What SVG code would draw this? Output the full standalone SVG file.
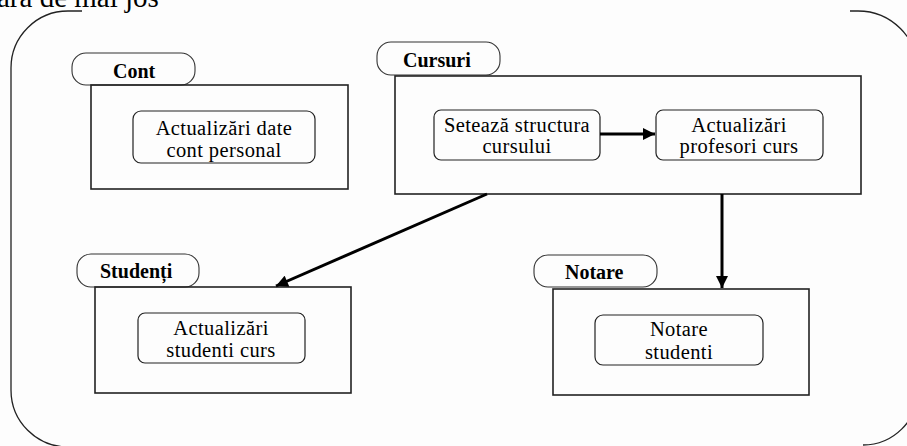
<svg xmlns="http://www.w3.org/2000/svg" width="907" height="446" viewBox="0 0 907 446">
  <defs>
    <marker id="ah" viewBox="0 0 10 10" refX="10" refY="5" markerWidth="4.6" markerHeight="4" orient="auto" markerUnits="strokeWidth">
      <path d="M0,0 L10,5 L0,10 z" fill="#000"/>
    </marker>
    <style>
      .bg { fill: #fdfdfd; }
      .frame { fill: none; stroke: #222; stroke-width: 1.3; }
      .box { fill: none; stroke: #222; stroke-width: 1.6; }
      .tab { fill: #fdfdfd; stroke: #333; stroke-width: 1.1; }
      .inner { fill: none; stroke: #222; stroke-width: 1.2; }
      .lbl { font-family: 'Liberation Serif', 'Times New Roman', Times, serif; font-weight: bold; font-size: 20px; fill: #000; }
      .txt { font-family: 'Liberation Serif', 'Times New Roman', Times, serif; font-size: 20.5px; letter-spacing: 0.4px; fill: #000; text-anchor: middle; }
      .doc { font-family: 'Liberation Serif', 'Times New Roman', Times, serif; font-size: 29px; fill: #000; }
      .conn { stroke: #000; stroke-width: 3; fill: none; marker-end: url(#ah); }
    </style>
  </defs>
  <rect class="bg" x="0" y="0" width="907" height="446"/>
  <text class="doc" x="-3" y="7">ara de mai jos</text>

  <g id="frame">
    <path class="frame" d="M82,11 L68,11 A57,57 0 0 0 11,68 L11,390 A57,57 0 0 0 68,447"/>
    <path class="frame" d="M850,11 L858,11 A60,60 0 0 1 918,71 L918,390 A55,55 0 0 1 863,445"/>
  </g>

  <g id="cont">
    <rect class="tab" x="72" y="53" width="123" height="32" rx="14" ry="14"/>
    <text class="lbl" x="113" y="78">Cont</text>
    <rect class="box" x="91" y="85" width="257" height="104"/>
    <g id="cont-actualizari">
      <rect class="inner" x="133" y="111" width="182" height="52" rx="8" ry="8"/>
      <text class="txt" x="224" y="135">Actualizări date</text>
      <text class="txt" x="224" y="157">cont personal</text>
    </g>
  </g>

  <g id="cursuri">
    <rect class="tab" x="377" y="42" width="123" height="33" rx="14" ry="14"/>
    <text class="lbl" x="403" y="67">Cursuri</text>
    <rect class="box" x="395" y="76" width="466" height="118"/>
    <g id="seteaza">
      <rect class="inner" x="434" y="110" width="166" height="50" rx="7" ry="7"/>
      <text class="txt" x="517" y="132">Setează structura</text>
      <text class="txt" x="517" y="153">cursului</text>
    </g>
    <g id="profesori">
      <rect class="inner" x="656" y="110" width="167" height="50" rx="7" ry="7"/>
      <text class="txt" x="739" y="132">Actualizări</text>
      <text class="txt" x="739" y="153">profesori curs</text>
    </g>
  </g>

  <g id="studenti">
    <rect class="tab" x="77" y="254" width="122" height="33" rx="14" ry="14"/>
    <text class="lbl" x="100" y="278">Studenți</text>
    <rect class="box" x="95" y="287" width="256" height="106"/>
    <g id="studenti-actualizari">
      <rect class="inner" x="138" y="313" width="167" height="50" rx="7" ry="7"/>
      <text class="txt" x="221" y="335">Actualizări</text>
      <text class="txt" x="221" y="357">studenti curs</text>
    </g>
  </g>

  <g id="notare">
    <rect class="tab" x="534" y="255" width="123" height="32" rx="14" ry="14"/>
    <text class="lbl" x="565" y="279">Notare</text>
    <rect class="box" x="553" y="289" width="256" height="106"/>
    <g id="notare-studenti">
      <rect class="inner" x="595" y="315" width="168" height="50" rx="8" ry="8"/>
      <text class="txt" x="679" y="336">Notare</text>
      <text class="txt" x="679" y="359">studenti</text>
    </g>
  </g>

  <g id="connectors">
    <line class="conn" x1="600" y1="134" x2="655" y2="134"/>
    <line class="conn" x1="487" y1="194" x2="276" y2="286"/>
    <line class="conn" x1="722" y1="194" x2="722" y2="288"/>
  </g>
</svg>
